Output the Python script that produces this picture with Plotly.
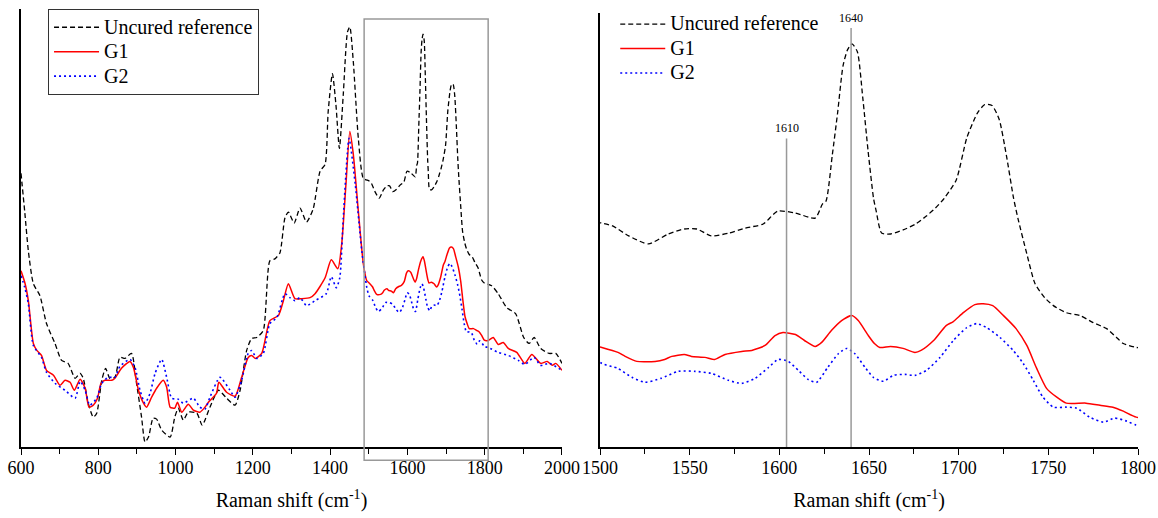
import plotly.graph_objects as go

# ---------------- data (arbitrary intensity units) ----------------
uncured_x = [600, 610, 619, 632, 649, 666, 688, 705, 722, 740, 753, 761, 774, 787, 796, 809, 819, 830, 843, 856,
             869, 886, 899, 912, 921, 930, 942, 951, 964, 986, 998, 1007, 1020, 1033, 1055, 1069, 1089, 1111, 1132,
             1154, 1167, 1184, 1197, 1210, 1227, 1244, 1257, 1270, 1283, 1292, 1307, 1322, 1339, 1356, 1374, 1387,
             1395, 1406, 1415, 1424, 1434, 1445, 1451, 1460, 1473, 1486,
             1501, 1507, 1516, 1527, 1538, 1547, 1554, 1562, 1572, 1581, 1591, 1599, 1609, 1620, 1624, 1626, 1629.5,
             1632.5, 1635.5, 1638, 1640.5, 1643.5, 1646.5, 1649.5, 1652.5, 1654, 1657, 1662, 1669, 1676, 1682, 1687,
             1692, 1698.6, 1704.6, 1710.6, 1714.6, 1718.6, 1722.6, 1726.6, 1730.6, 1733, 1738, 1742.6, 1748, 1752.8,
             1760, 1767.7, 1775, 1782.5, 1788, 1791.8, 1799,
             1818, 1835, 1857, 1880, 1901, 1915, 1928, 1945, 1967, 1984, 2000]
uncured_y = [275, 235, 197, 164, 152, 124, 104, 87, 84, 69, 74, 69, 44, 30, 34, 67, 79, 69, 70, 90,
             89, 94, 64, 30, 5, 10, 29, 28, 17, 10, 30, 39, 27, 35, 34, 22, 40, 57, 49,
             42, 57, 97, 109, 110, 117, 187, 189, 195, 230, 236, 225, 240, 226, 239, 277, 284,
             337, 375, 344, 300, 354, 417, 422, 387, 310, 270,
             267.2, 264.8, 256.6, 250, 258.2, 262.3, 262.3, 256.6, 259, 263.1, 266.4, 277, 275.4, 271.3, 282.8, 285.2, 323,
             358.2, 396.7, 409.8, 414.8, 408.2, 370.5, 326.2, 287.7, 277, 259, 258.2, 261.5, 266.4, 273, 279.5,
             287.7, 302.5, 337.7, 358.2, 364.8, 364, 352.5, 323, 287.7, 271.3, 241.8, 217.2, 205.7, 199.2,
             193.4, 191, 185.2, 180.3, 173, 168, 164.8,
             162, 154, 140, 134, 110, 104, 110, 99, 94, 94, 84]

g1_x = [600, 610, 619, 632, 641, 653, 666, 684, 701, 714, 727, 738, 753, 766, 776, 787, 798, 807, 817, 835,
        843, 860, 882, 891, 904, 917, 925, 938, 951, 968, 977, 986, 998, 1005, 1016, 1033, 1046, 1063, 1076,
        1085, 1106, 1112, 1132, 1154, 1171, 1188, 1197, 1206, 1223, 1244, 1266, 1279, 1292, 1309, 1327, 1348,
        1361, 1387, 1403, 1420, 1430, 1441, 1451, 1460, 1473, 1486, 1495,
        1501, 1510, 1514, 1520.5, 1530.7, 1536, 1540, 1547, 1551, 1558.5, 1564, 1569.7, 1579, 1584.6, 1592,
        1597.6, 1602, 1609, 1614, 1620, 1623.6, 1629, 1634.7, 1640.4, 1644, 1649.6, 1653, 1656, 1662, 1669,
        1675.6, 1679, 1686, 1693, 1697, 1702.6, 1709, 1713.7, 1719, 1725, 1732, 1738, 1743.5, 1749, 1754.7,
        1760, 1771, 1778.8, 1786, 1791.8, 1799,
        1809, 1822, 1835, 1848, 1861, 1883, 1904, 1922, 1945, 1962, 1975, 1984, 2000]
g1_y = [177, 165, 147, 104, 97, 92, 77, 72, 62, 67, 65, 57, 68, 59, 40, 42, 49, 64, 67, 67,
        69, 79, 86, 80, 57, 44, 40, 50, 59, 67, 60, 40, 39, 45, 35, 43, 37, 35, 40,
        45, 54, 65, 55, 51, 70, 90, 92, 89, 94, 127, 132, 147, 164, 149, 149, 150,
        154, 170, 188, 179, 204, 264, 317, 294, 237, 184, 167,
        164.8, 160.7, 157.4, 153.3, 153.3, 154.9, 157.4, 159, 157.4, 156.6, 154.9, 159, 161.5, 162.3, 166.4,
        174.6, 177, 175.4, 170.5, 165.6, 168.9, 178.7, 186.9, 191, 186.9, 174.6, 168, 164.8, 165.6, 164,
        160.7, 162.3, 170.5, 182.8, 186.1, 193.4, 200, 200.8, 199.2, 191, 180.3, 166.4, 147.5, 131.1, 123.8,
        118.9, 118.9, 117.2, 115.6, 112.3, 107.4,
        107, 110, 103, 105, 99, 95, 84, 93, 84, 86, 82, 84, 77]

g2_x = [600, 610, 619, 632, 653, 666, 688, 714, 740, 753, 766, 778, 796, 809, 826, 843, 856, 882, 895, 908,
        921, 934, 947, 964, 977, 990, 1007, 1020, 1046, 1063, 1076, 1089, 1115, 1141, 1154, 1171, 1188, 1197,
        1210, 1227, 1244, 1262, 1283, 1296, 1309, 1322, 1339, 1361, 1390, 1403, 1416, 1425, 1434, 1449, 1465,
        1482, 1495,
        1501, 1510, 1517.7, 1525, 1534, 1543.7, 1553, 1562, 1571.6, 1579, 1586.4, 1594, 1599.4, 1605, 1610.6,
        1616, 1620.8, 1627, 1633, 1637.6, 1642, 1647.8, 1652.4, 1658, 1663.6, 1670, 1675.6, 1682, 1689.6, 1697,
        1704.5, 1710, 1715.6, 1723, 1730.4, 1736, 1741.6, 1747, 1752.8, 1760, 1765.8, 1773, 1780.7, 1787,
        1793.7, 1799,
        1809, 1835, 1861, 1887, 1904, 1928, 1945, 1967, 2000]
g2_y = [172, 160, 144, 102, 90, 75, 64, 57, 49, 66, 57, 42, 49, 64, 70, 70, 81, 88, 80, 57,
        44, 54, 74, 88, 70, 49, 48, 44, 49, 40, 38, 50, 70, 57, 50, 67, 94, 97,
        89, 94, 124, 130, 154, 150, 147, 150, 142, 147, 154, 171, 160, 170, 230, 310, 264,
        197, 160,
        151.6, 147.5, 140.2, 136.1, 139.3, 145.1, 145.1, 143.4, 137.7, 135.2, 139.3, 148.4, 154.9, 153.3, 145.9,
        138.5, 136.1, 148.4, 159.8, 163.9, 159.8, 148.4, 140.2, 136.9, 141.8, 142.6, 141.8, 145.9, 156.6, 170.5,
        181.1, 184.4, 181.1, 173, 162.3, 151.6, 137.7, 123.8, 115.6, 115.6, 114.8, 107.4, 103.3, 106.6,
        104.1, 100.8,
        100, 95, 92, 87, 83, 90, 82, 84, 77]

series_names = ["Uncured reference", "G1", "G2"]
marker_pos = [1604, 1640]        # drawn positions of the reference lines
marker_top = [336.9, 427.9]      # intensity level where the lines end
marker_labels = ["1610", "1640"]
zoom_box = [1488, 1809]          # highlighted region on the left panel

# ---------------- styling ----------------
FONT = "Liberation Serif"
styles = [dict(color="black", width=1.3, dash="5px,3px"),
          dict(color="#ff0000", width=1.5, dash="solid"),
          dict(color="#0000ff", width=1.6, dash="2px,3px")]
data = [(uncured_x, uncured_y), (g1_x, g1_y), (g2_x, g2_y)]


def legend_label(name):
    return '<span style="font-size:20px">' + name + '</span>'


fig = go.Figure()
for (xs, ys), name, st in zip(data, series_names, styles):
    fig.add_trace(go.Scatter(x=xs, y=ys, mode="lines", name=legend_label(name),
                             line=dict(**st, shape="spline", smoothing=0.6),
                             xaxis="x", yaxis="y", legend="legend"))
for (xs, ys), name, st in zip(data, series_names, styles):
    fig.add_trace(go.Scatter(x=xs, y=ys, mode="lines", name=legend_label(name),
                             line=dict(**st, shape="spline", smoothing=0.6),
                             xaxis="x2", yaxis="y2", legend="legend2"))

axis_common = dict(showline=True, linecolor="black", linewidth=1.5, showgrid=False, zeroline=False,
                   automargin=False,
                   ticks="outside", ticklen=6, tickwidth=1.2, tickcolor="black", ticklabelstandoff=-2,
                   tickfont=dict(family=FONT, size=18, color="black"),
                   title=dict(text="Raman shift (cm<sup>-1</sup>)", font=dict(family=FONT, size=20, color="black"),
                              standoff=16))

fig.update_layout(
    width=1158, height=518,
    margin=dict(l=21, r=20, t=7, b=71),
    paper_bgcolor="white", plot_bgcolor="white",
    showlegend=True,
    xaxis=dict(domain=[0, 0.4843], range=[600, 2000], dtick=200,
               minor=dict(dtick=100, ticks="outside", ticklen=5, tickcolor="black", tickwidth=1.2),
               anchor="y", **axis_common),
    xaxis2=dict(domain=[0.5184, 1], range=[1500, 1800], dtick=50,
                minor=dict(dtick=25, ticks="outside", ticklen=5, tickcolor="black", tickwidth=1.2),
                anchor="y2", **axis_common),
    yaxis=dict(domain=[0, 1], range=[0, 440], showline=True, linecolor="black", linewidth=1.5, automargin=False,
               showticklabels=False, ticks="", showgrid=False, zeroline=False, anchor="x"),
    yaxis2=dict(domain=[0, 0.991], range=[82.8, 440.2], showline=True, linecolor="black", linewidth=1.5,
                automargin=False,
                showticklabels=False, ticks="", showgrid=False, zeroline=False, anchor="x2"),
    legend=dict(x=0.0242, y=1.0, xanchor="left", yanchor="top", bgcolor="white",
                bordercolor="#333", borderwidth=1, itemwidth=45, tracegroupgap=0,
                font=dict(family=FONT, size=16.5, color="black")),
    legend2=dict(x=0.532, y=1.005, xanchor="left", yanchor="top", bgcolor="rgba(0,0,0,0)",
                 borderwidth=0, itemwidth=45,
                 font=dict(family=FONT, size=16.5, color="black")),
)

# highlighted zoom region on the left panel
fig.add_shape(type="rect", xref="x", yref="paper", x0=zoom_box[0], x1=zoom_box[1], y0=-0.03, y1=0.977,
              line=dict(color="#999999", width=1.5), fillcolor="rgba(0,0,0,0)", layer="above")

# reference lines on the right panel
for pos, top, lab in zip(marker_pos, marker_top, marker_labels):
    fig.add_shape(type="line", xref="x2", yref="y2", x0=pos, x1=pos, y0=82.8, y1=top,
                  line=dict(color="#999999", width=1.5), layer="above")
    fig.add_annotation(x=pos, y=top, xref="x2", yref="y2", text=lab, showarrow=False, yanchor="bottom",
                       yshift=1, font=dict(family=FONT, size=12, color="black"))

fig.write_html("out.html", config={"displayModeBar": False},
               post_script="document.body.style.margin='0';")
